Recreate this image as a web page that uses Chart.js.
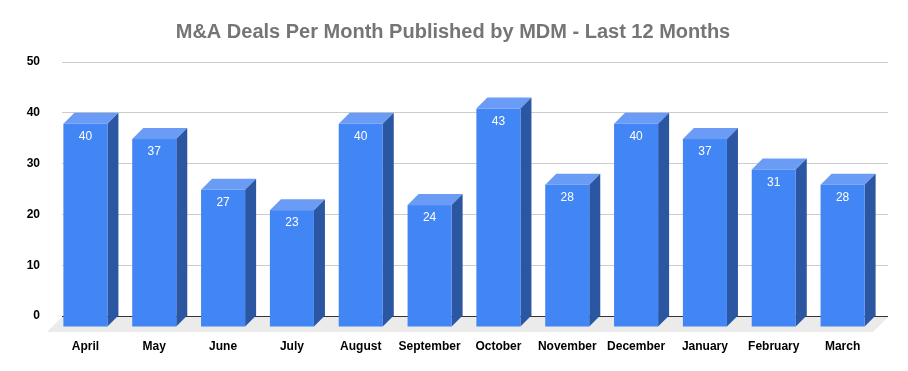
<!DOCTYPE html>
<html>
<head>
<meta charset="utf-8">
<script src="https://cdn.jsdelivr.net/npm/chart.js@4.4.1/dist/chart.umd.min.js"></script>
<style>
  html, body { margin: 0; padding: 0; background: #fff; }
  #wrap { width: 908px; height: 371px; }
</style>
</head>
<body>
<div id="wrap"><canvas id="chart"></canvas></div>
<script>
const months = ['April', 'May', 'June', 'July', 'August', 'September', 'October', 'November', 'December', 'January', 'February', 'March'];
const deals = [40, 37, 27, 23, 40, 24, 43, 28, 40, 37, 31, 28];
const yTicks = [0, 10, 20, 30, 40, 50];

const depth = 11;
const frontColor = '#4285f4';
const topColor = '#6a9cf5';
const sideColor = '#2b56a2';

// fake 3D: floor under the bars, then front/top/side faces for every bar
const bar3d = {
  id: 'bar3d',
  beforeDatasetsDraw(chart) {
    const ctx = chart.ctx;
    const {left, right} = chart.chartArea;
    const base = chart.scales.y.getPixelForValue(0);
    const fd = 15;
    ctx.save();
    ctx.fillStyle = '#ebebeb';
    ctx.beginPath();
    ctx.moveTo(left, base + 1);
    ctx.lineTo(right, base + 1);
    ctx.lineTo(right - fd, base + 1 + fd);
    ctx.lineTo(left - fd, base + 1 + fd);
    ctx.closePath();
    ctx.fill();
    ctx.restore();
  },
  afterDatasetsDraw(chart) {
    const ctx = chart.ctx;
    ctx.save();
    chart.getDatasetMeta(0).data.forEach((bar, i) => {
      const {x, y, base, width} = bar.getProps(['x', 'y', 'base', 'width'], true);
      const l = x - width / 2 - depth;
      const r = x + width / 2 - depth;
      const t = y + depth;
      const b = base + depth;

      ctx.fillStyle = topColor;
      ctx.beginPath();
      ctx.moveTo(l, t);
      ctx.lineTo(l + depth, y);
      ctx.lineTo(r + depth, y);
      ctx.lineTo(r, t);
      ctx.closePath();
      ctx.fill();

      ctx.fillStyle = sideColor;
      ctx.beginPath();
      ctx.moveTo(r, t);
      ctx.lineTo(r + depth, y);
      ctx.lineTo(r + depth, base);
      ctx.lineTo(r, b);
      ctx.closePath();
      ctx.fill();

      ctx.fillStyle = frontColor;
      ctx.fillRect(l, t, width, b - t);

      ctx.fillStyle = '#ffffff';
      ctx.font = '12px "Liberation Sans", Arial, sans-serif';
      ctx.textAlign = 'center';
      ctx.textBaseline = 'middle';
      ctx.fillText(String(deals[i]), x - depth, t + 13);
    });
    ctx.restore();
  }
};

new Chart(document.getElementById('chart'), {
  type: 'bar',
  data: {
    labels: months,
    datasets: [{
      data: deals,
      backgroundColor: 'rgba(0,0,0,0)',
      barPercentage: 0.64,
      categoryPercentage: 1
    }]
  },
  options: {
    responsive: true,
    maintainAspectRatio: false,
    animation: false,
    layout: { padding: { left: 18, right: 20, top: 0, bottom: 0 } },
    plugins: {
      legend: { display: false },
      tooltip: { enabled: false },
      title: {
        display: true,
        text: 'M&A Deals Per Month Published by MDM - Last 12 Months',
        color: '#757575',
        font: { family: '"Liberation Sans", Arial, sans-serif', size: 20, weight: 'bold' },
        padding: { top: 20, bottom: 18 }
      }
    },
    scales: {
      x: {
        afterFit(scale) { scale.height = 55; },
        grid: { display: false, drawTicks: false },
        border: { display: false },
        ticks: {
          color: '#000',
          padding: 23,
          labelOffset: -depth,
          maxRotation: 0,
          autoSkip: false,
          font: { family: '"Liberation Sans", Arial, sans-serif', size: 12, weight: 'bold' }
        }
      },
      y: {
        min: 0,
        max: 50,
        afterFit(scale) { scale.width = 44; },
        afterBuildTicks(scale) { scale.ticks = yTicks.map(v => ({value: v})); },
        grid: {
          drawTicks: false,
          color: ctx => ctx.tick && ctx.tick.value === 0 ? '#333333' : '#cccccc',
          lineWidth: 1
        },
        border: { display: false },
        ticks: {
          color: '#000',
          padding: 22,
          font: { family: '"Liberation Sans", Arial, sans-serif', size: 12, weight: 'bold' }
        }
      }
    }
  },
  plugins: [bar3d]
});
</script>
</body>
</html>
